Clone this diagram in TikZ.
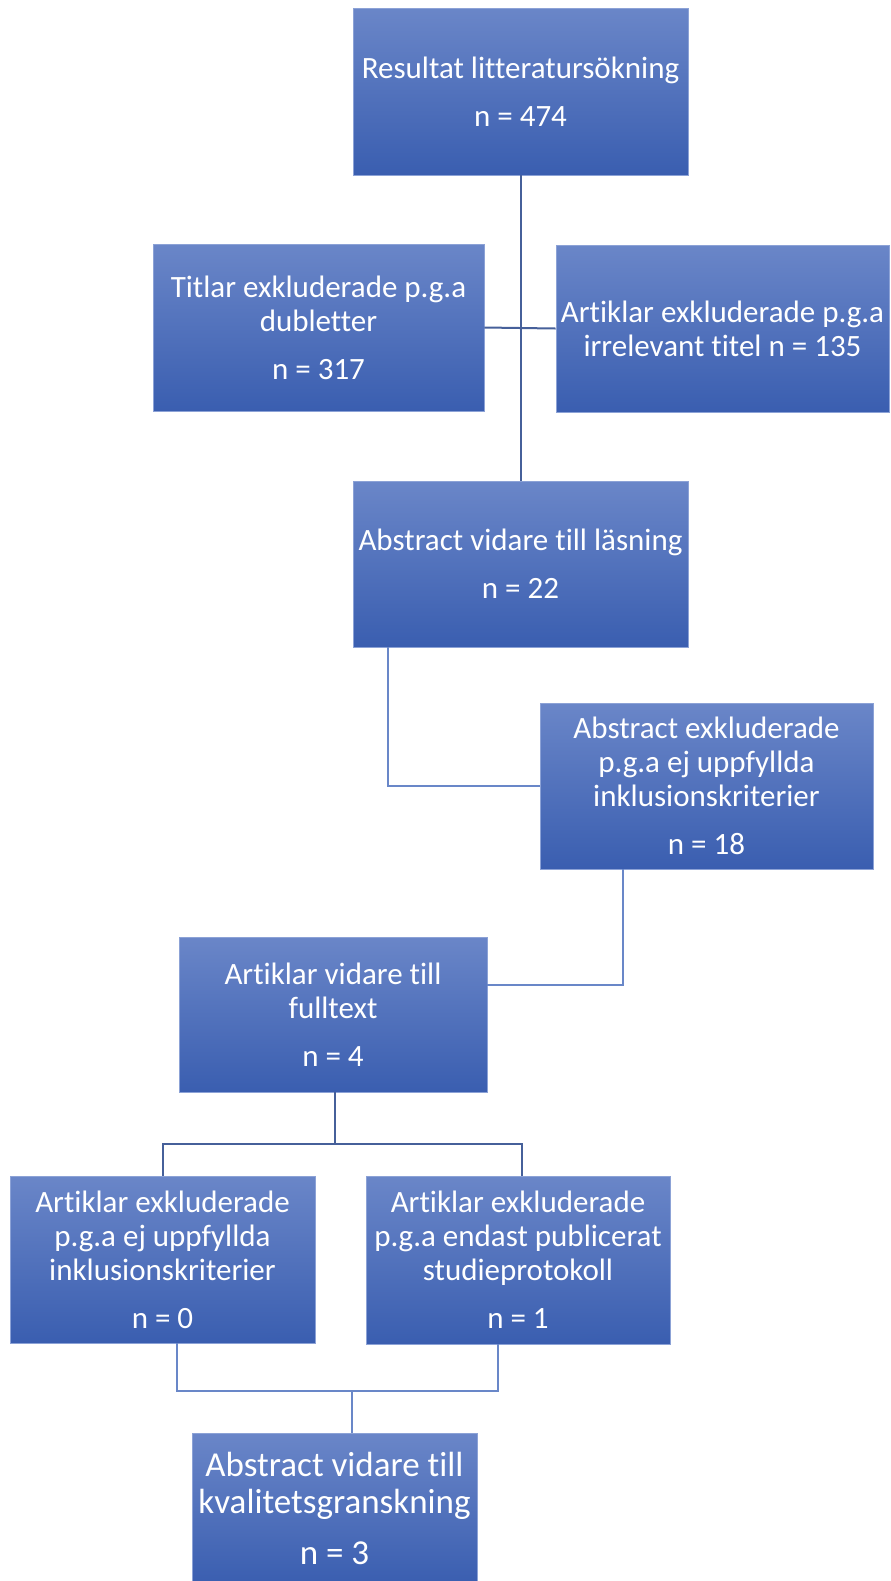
\documentclass[tikz,border=0pt]{standalone}
\usepackage{fontspec}
\setmainfont{Carlito}[Ligatures=NoCommon]
\definecolor{boxtop}{RGB}{106,134,200}
\definecolor{boxmid}{RGB}{72,112,196}
\definecolor{boxbot}{RGB}{58,94,176}
\definecolor{boxrim}{RGB}{140,162,214}
\definecolor{linkdark}{RGB}{70,96,154}
\definecolor{linklight}{RGB}{105,135,200}
\tikzset{
  flowbox/.style={rectangle, draw=boxrim, line width=0.4pt,
    top color=boxtop, middle color=boxmid, bottom color=boxbot,
    text=white, align=center, inner sep=0pt,
    font=\fontsize{15.5}{17}\selectfont},
  link/.style={draw=linkdark, line width=1pt},
  lightlink/.style={draw=linklight, line width=1pt},
}

\begin{document}
\begin{tikzpicture}[x=0.5pt, y=-0.5pt]
   \useasboundingbox (0,0) rectangle (890,1581);
   % boxes
   \node[flowbox, minimum width=167.5pt, minimum height=83.5pt] (result) at (520.5,91.5)
     {Resultat litteratursökning\\[7pt]n = 474};
   \node[flowbox, minimum width=165.5pt, minimum height=83.5pt] (dupes) at (318.5,327.5)
     {Titlar exkluderade p.g.a\\dubletter\\[7pt]n = 317};
   \node[flowbox, minimum width=166.5pt, minimum height=83.5pt] (irrel) at (722.5,328.5)
     {Artiklar exkluderade p.g.a\\irrelevant titel n = 135};
   \node[flowbox, minimum width=167.5pt, minimum height=83pt] (abstr) at (520.5,564)
     {Abstract vidare till läsning\\[7pt]n = 22};
   \node[flowbox, minimum width=166.5pt, minimum height=83pt] (abexcl) at (706.5,786)
     {Abstract exkluderade\\p.g.a ej uppfyllda\\inklusionskriterier\\[7pt]n = 18};
   \node[flowbox, minimum width=154pt, minimum height=77.5pt] (fulltext) at (333,1014.5)
     {Artiklar vidare till\\fulltext\\[7pt]n = 4};
   \node[flowbox, minimum width=152.5pt, minimum height=83.5pt] (crit) at (162.5,1259.5)
     {Artiklar exkluderade\\p.g.a ej uppfyllda\\inklusionskriterier\\[7pt]n = 0};
   \node[flowbox, minimum width=152pt, minimum height=84pt] (proto) at (518,1260)
     {Artiklar exkluderade\\p.g.a endast publicerat\\studieprotokoll\\[7pt]n = 1};
   \node[flowbox, minimum width=142.5pt, minimum height=75.5pt,
     font=\fontsize{17.5}{18.5}\selectfont] (quality) at (334.5,1508.5)
     {Abstract vidare till\\kvalitetsgranskning\\[7pt]n = 3};
   % connectors
   \coordinate (split) at (335,1144);
   \coordinate (join) at (352,1391);
   \draw[link] (result.south) -- (abstr.north);
   \draw[link] (dupes.east) -- (irrel.west);
   \draw[lightlink] ([xshift=17.5pt]abstr.south west) |- (abexcl.west);
   \draw[lightlink] ([xshift=41.5pt]abexcl.south west) |- ([yshift=14.75pt]fulltext.east);
   \draw[link] (fulltext.south -| split) -- (split);
   \draw[link] (crit.north) |- (split) -| ([xshift=2pt]proto.north);
   \draw[lightlink] ([xshift=7.25pt]crit.south) |- (join) -| ([xshift=-10pt]proto.south);
   \draw[lightlink] (join) -- (join |- quality.north);
\end{tikzpicture}
\end{document}
